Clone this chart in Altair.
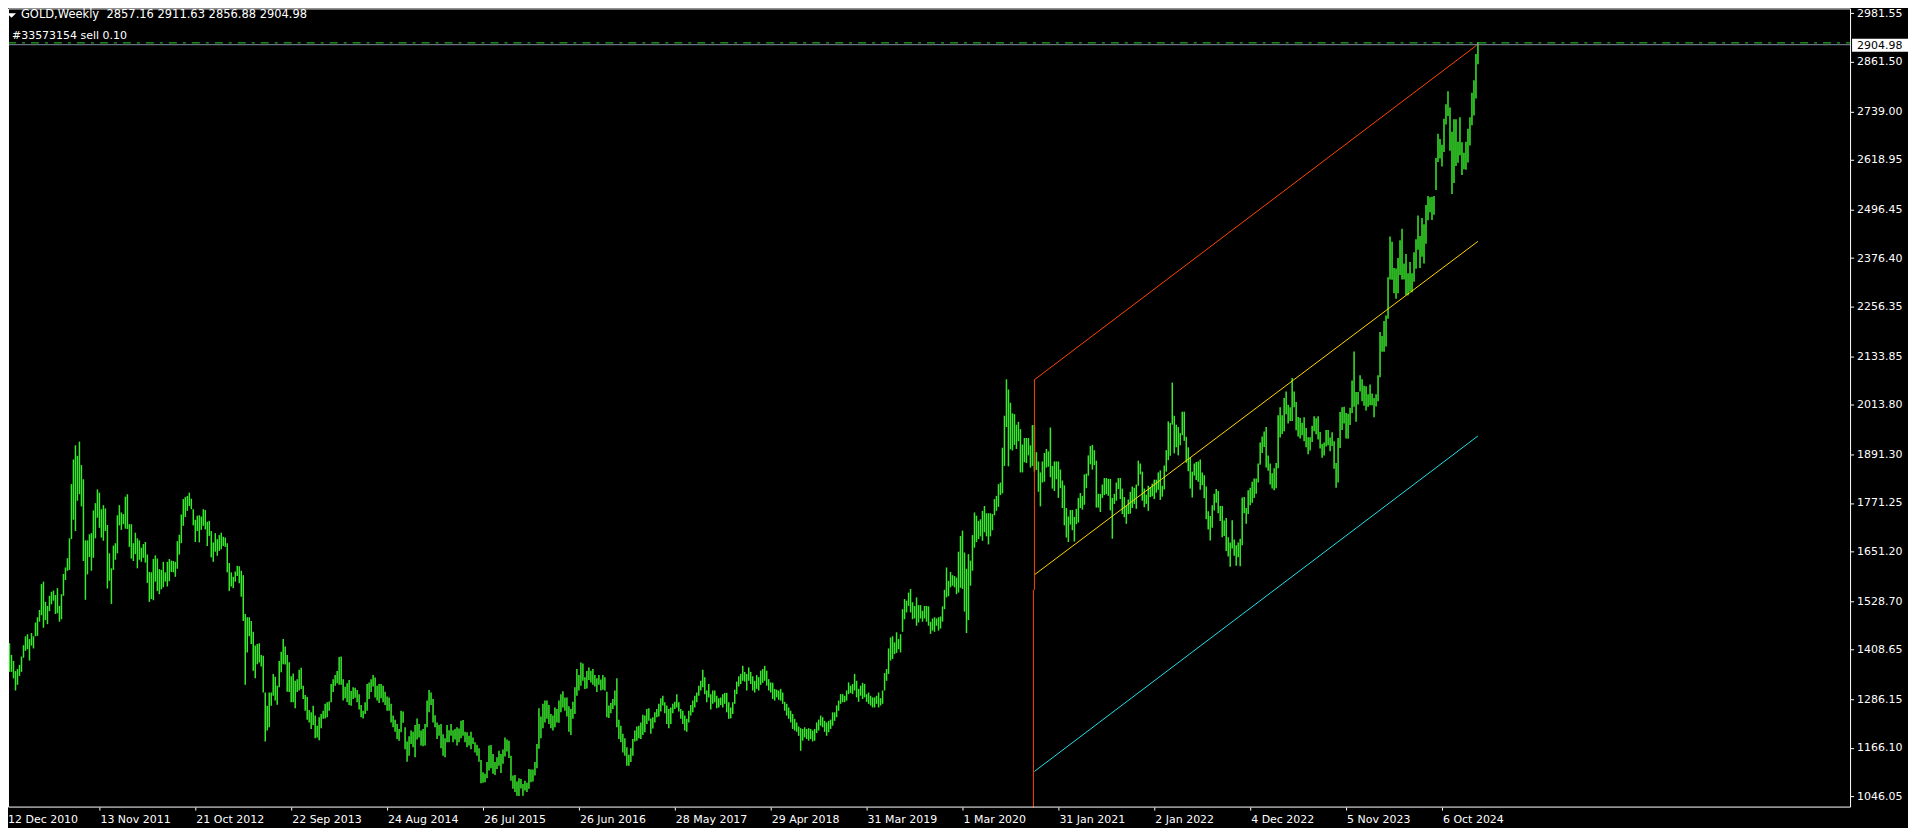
import json
import altair as alt
import pandas as pd

# ---------------- texts / labels ----------------
symbol_text = "GOLD,Weekly"
last_ohlc = [2857.16, 2911.63, 2856.88, 2904.98]
order_text = "#33573154 sell 0.10"
order_price = 2909.5
bid_price = 2904.98

date_labels = ["12 Dec 2010", "13 Nov 2011", "21 Oct 2012", "22 Sep 2013", "24 Aug 2014",
               "26 Jul 2015", "26 Jun 2016", "28 May 2017", "29 Apr 2018", "31 Mar 2019",
               "1 Mar 2020", "31 Jan 2021", "2 Jan 2022", "4 Dec 2022", "5 Nov 2023", "6 Oct 2024"]
label_bars = [0, 48, 96, 144, 192, 240, 288, 336, 384, 432, 480, 528, 576, 624, 672, 720]
price_ticks = [2981.55, 2861.50, 2739.00, 2618.95, 2496.45, 2376.40, 2256.35, 2133.85, 2013.80,
               1891.30, 1771.25, 1651.20, 1528.70, 1408.65, 1286.15, 1166.10, 1046.05]

# ---------------- weekly highs / lows (bars from 12 Dec 2010) ----------------
high_s00 = [1411, 1395, 1424, 1426, 1397, 1382, 1357, 1362, 1372, 1393, 1421, 1443,
            1448, 1436, 1451, 1443, 1477, 1490, 1508, 1572, 1578, 1528, 1518, 1543,
            1553, 1556, 1545, 1562, 1518, 1547, 1597, 1613, 1636, 1685, 1819, 1880,
            1915, 1889, 1924, 1866, 1831, 1680, 1680, 1695, 1698, 1754, 1772, 1806]
low_s00 = [1362, 1372, 1372, 1355, 1355, 1339, 1309, 1323, 1345, 1355, 1390, 1407,
           1411, 1383, 1420, 1413, 1443, 1444, 1479, 1495, 1464, 1483, 1473, 1505,
           1522, 1531, 1498, 1500, 1479, 1485, 1543, 1582, 1605, 1607, 1683, 1731,
           1703, 1778, 1794, 1764, 1629, 1533, 1596, 1639, 1605, 1637, 1685, 1736]
high_s01 = [1798, 1757, 1767, 1759, 1718, 1648, 1611, 1667, 1673, 1742, 1767, 1749,
            1745, 1788, 1794, 1720, 1720, 1673, 1699, 1685, 1680, 1662, 1671, 1676,
            1645, 1602, 1601, 1634, 1643, 1635, 1609, 1607, 1627, 1601, 1627, 1634,
            1630, 1629, 1627, 1678, 1694, 1744, 1782, 1787, 1790, 1798, 1783, 1757]
low_s01 = [1711, 1687, 1679, 1703, 1561, 1580, 1523, 1607, 1632, 1648, 1717, 1706,
           1720, 1709, 1708, 1664, 1635, 1629, 1646, 1611, 1632, 1627, 1637, 1625,
           1575, 1528, 1535, 1532, 1578, 1555, 1547, 1559, 1564, 1578, 1566, 1579,
           1602, 1601, 1590, 1610, 1645, 1673, 1716, 1738, 1753, 1765, 1757, 1717]
high_s02 = [1731, 1741, 1742, 1739, 1757, 1755, 1726, 1728, 1703, 1675, 1698, 1683,
            1693, 1699, 1689, 1687, 1673, 1624, 1601, 1590, 1603, 1617, 1616, 1605,
            1594, 1498, 1490, 1490, 1481, 1454, 1420, 1424, 1426, 1397, 1395, 1304,
            1271, 1304, 1304, 1350, 1343, 1321, 1382, 1405, 1436, 1418, 1397, 1379]
low_s02 = [1676, 1703, 1675, 1706, 1716, 1707, 1666, 1691, 1638, 1627, 1652, 1642,
           1654, 1658, 1666, 1664, 1601, 1555, 1566, 1562, 1578, 1592, 1574, 1541,
           1481, 1323, 1403, 1443, 1424, 1358, 1339, 1374, 1378, 1368, 1304, 1183,
           1210, 1218, 1271, 1296, 1284, 1274, 1317, 1354, 1374, 1373, 1306, 1305]
high_s03 = [1344, 1351, 1333, 1337, 1360, 1365, 1321, 1298, 1293, 1261, 1255, 1271,
            1247, 1222, 1243, 1251, 1259, 1276, 1280, 1282, 1325, 1337, 1347, 1357,
            1392, 1393, 1337, 1318, 1327, 1335, 1308, 1317, 1316, 1310, 1300, 1273,
            1259, 1280, 1325, 1329, 1337, 1347, 1341, 1321, 1325, 1325, 1321, 1306]
low_s03 = [1280, 1280, 1265, 1305, 1309, 1313, 1288, 1259, 1237, 1230, 1214, 1224,
           1191, 1193, 1186, 1216, 1239, 1240, 1243, 1259, 1280, 1305, 1321, 1327,
           1323, 1323, 1284, 1290, 1280, 1273, 1271, 1288, 1291, 1280, 1262, 1243,
           1240, 1251, 1259, 1288, 1305, 1319, 1292, 1284, 1278, 1290, 1280, 1273]
high_s04 = [1294, 1292, 1276, 1247, 1237, 1226, 1214, 1259, 1257, 1218, 1183, 1196,
            1210, 1207, 1224, 1240, 1226, 1210, 1214, 1226, 1284, 1310, 1304, 1288,
            1248, 1230, 1224, 1226, 1201, 1191, 1224, 1211, 1226, 1211, 1214, 1218,
            1215, 1234, 1236, 1207, 1206, 1197, 1207, 1193, 1181, 1175, 1166, 1137]
low_s04 = [1259, 1259, 1230, 1218, 1207, 1189, 1185, 1206, 1229, 1164, 1133, 1148,
           1177, 1169, 1144, 1188, 1193, 1173, 1171, 1173, 1218, 1255, 1273, 1230,
           1218, 1189, 1197, 1166, 1148, 1144, 1181, 1181, 1197, 1181, 1188, 1173,
           1181, 1191, 1197, 1181, 1169, 1173, 1164, 1177, 1156, 1148, 1133, 1080]
high_s05 = [1107, 1103, 1132, 1173, 1174, 1152, 1132, 1144, 1160, 1152, 1163, 1193,
            1188, 1185, 1148, 1099, 1100, 1084, 1092, 1090, 1078, 1086, 1081, 1115,
            1114, 1114, 1132, 1177, 1265, 1245, 1276, 1284, 1284, 1273, 1251, 1247,
            1267, 1263, 1284, 1300, 1307, 1292, 1292, 1270, 1263, 1281, 1317, 1362]
low_s05 = [1081, 1082, 1092, 1111, 1117, 1103, 1100, 1115, 1123, 1105, 1128, 1146,
           1158, 1142, 1086, 1066, 1058, 1049, 1048, 1067, 1049, 1062, 1058, 1066,
           1082, 1084, 1099, 1117, 1165, 1191, 1216, 1230, 1239, 1226, 1216, 1210,
           1218, 1230, 1229, 1255, 1267, 1259, 1245, 1207, 1199, 1239, 1251, 1296]
high_s06 = [1347, 1378, 1376, 1342, 1357, 1366, 1358, 1362, 1347, 1339, 1347, 1336,
            1347, 1342, 1306, 1272, 1278, 1288, 1309, 1339, 1237, 1222, 1202, 1191,
            1169, 1150, 1166, 1189, 1210, 1220, 1222, 1230, 1249, 1247, 1263, 1265,
            1240, 1243, 1255, 1263, 1276, 1290, 1296, 1280, 1272, 1263, 1267, 1276]
low_s06 = [1309, 1321, 1333, 1313, 1314, 1335, 1329, 1323, 1319, 1305, 1323, 1309,
           1311, 1309, 1243, 1241, 1253, 1263, 1272, 1218, 1189, 1181, 1156, 1148,
           1123, 1123, 1132, 1148, 1183, 1185, 1191, 1189, 1199, 1206, 1226, 1234,
           1202, 1215, 1230, 1243, 1245, 1257, 1272, 1253, 1226, 1216, 1226, 1253]
high_s07 = [1281, 1300, 1280, 1263, 1259, 1247, 1239, 1259, 1273, 1284, 1296, 1304,
            1321, 1333, 1360, 1342, 1309, 1325, 1300, 1309, 1309, 1296, 1290, 1292,
            1300, 1303, 1303, 1280, 1267, 1280, 1311, 1331, 1344, 1350, 1370, 1355,
            1350, 1366, 1355, 1344, 1333, 1347, 1342, 1358, 1362, 1370, 1358, 1337]
low_s07 = [1263, 1267, 1257, 1239, 1226, 1210, 1207, 1230, 1247, 1255, 1267, 1280,
           1296, 1309, 1317, 1300, 1280, 1292, 1262, 1276, 1280, 1265, 1267, 1273,
           1267, 1276, 1255, 1239, 1240, 1251, 1276, 1300, 1319, 1325, 1333, 1331,
           1309, 1333, 1325, 1309, 1304, 1313, 1309, 1323, 1328, 1333, 1321, 1309]
high_s08 = [1329, 1328, 1313, 1311, 1309, 1313, 1304, 1281, 1276, 1267, 1259, 1251,
            1239, 1230, 1220, 1216, 1214, 1218, 1214, 1216, 1214, 1210, 1214, 1230,
            1237, 1247, 1243, 1234, 1230, 1234, 1237, 1255, 1255, 1272, 1284, 1300,
            1300, 1296, 1309, 1329, 1321, 1325, 1350, 1333, 1313, 1321, 1328, 1325]
low_s08 = [1304, 1288, 1284, 1292, 1286, 1284, 1276, 1259, 1247, 1239, 1230, 1214,
           1210, 1207, 1197, 1160, 1185, 1193, 1189, 1185, 1189, 1183, 1185, 1204,
           1210, 1222, 1218, 1207, 1197, 1206, 1214, 1222, 1234, 1243, 1259, 1276,
           1280, 1280, 1284, 1300, 1303, 1300, 1309, 1292, 1281, 1296, 1288, 1292]
high_s09 = [1300, 1304, 1296, 1292, 1292, 1296, 1304, 1290, 1309, 1352, 1362, 1413,
            1440, 1443, 1428, 1453, 1436, 1448, 1510, 1535, 1531, 1551, 1560, 1527,
            1518, 1539, 1520, 1520, 1506, 1518, 1518, 1517, 1479, 1487, 1490, 1487,
            1490, 1492, 1517, 1558, 1613, 1580, 1602, 1594, 1592, 1588, 1652, 1691]
low_s09 = [1281, 1276, 1272, 1267, 1267, 1276, 1267, 1272, 1276, 1309, 1333, 1350,
           1383, 1387, 1399, 1402, 1411, 1403, 1454, 1485, 1502, 1518, 1502, 1485,
           1487, 1469, 1477, 1487, 1479, 1487, 1479, 1469, 1449, 1457, 1454, 1469,
           1457, 1462, 1479, 1510, 1539, 1542, 1564, 1568, 1564, 1547, 1551, 1563]
high_s10 = [1704, 1650, 1610, 1646, 1630, 1693, 1749, 1741, 1728, 1732, 1753, 1765,
            1747, 1747, 1747, 1745, 1782, 1790, 1819, 1823, 1909, 1988, 2078, 2053,
            2020, 1994, 1992, 1966, 1973, 1955, 1917, 1933, 1933, 1933, 1915, 1965,
            1965, 1898, 1875, 1848, 1875, 1896, 1906, 1900, 1959, 1864, 1875, 1875]
low_s10 = [1560, 1504, 1451, 1483, 1568, 1605, 1662, 1676, 1683, 1690, 1679, 1700,
           1690, 1670, 1690, 1705, 1742, 1753, 1763, 1792, 1796, 1864, 1960, 1863,
           1905, 1902, 1916, 1906, 1925, 1848, 1848, 1873, 1871, 1890, 1860, 1864,
           1850, 1854, 1800, 1764, 1823, 1825, 1860, 1862, 1836, 1808, 1802, 1831]
high_s11 = [1875, 1855, 1828, 1816, 1760, 1739, 1755, 1755, 1738, 1758, 1785, 1797,
            1790, 1843, 1845, 1890, 1913, 1916, 1903, 1877, 1795, 1795, 1818, 1834,
            1834, 1832, 1832, 1785, 1795, 1823, 1834, 1834, 1808, 1787, 1765, 1781,
            1800, 1813, 1810, 1818, 1877, 1870, 1850, 1808, 1793, 1815, 1811, 1820]
low_s11 = [1785, 1809, 1760, 1717, 1687, 1676, 1719, 1705, 1677, 1720, 1724, 1760,
           1756, 1768, 1809, 1840, 1868, 1855, 1866, 1761, 1761, 1750, 1785, 1792,
           1794, 1790, 1754, 1684, 1770, 1778, 1807, 1782, 1745, 1737, 1721, 1745,
           1746, 1760, 1770, 1758, 1815, 1843, 1778, 1762, 1770, 1753, 1787, 1789]
high_s12 = [1830, 1830, 1848, 1853, 1815, 1865, 1903, 1974, 1970, 2070, 1988, 1966,
            1960, 1945, 1998, 1998, 1936, 1910, 1884, 1850, 1870, 1874, 1875, 1880,
            1848, 1841, 1813, 1752, 1740, 1767, 1795, 1807, 1802, 1765, 1765, 1729,
            1735, 1688, 1675, 1730, 1682, 1668, 1675, 1684, 1786, 1787, 1760, 1804]
low_s12 = [1782, 1798, 1805, 1780, 1788, 1806, 1850, 1878, 1889, 1966, 1895, 1910,
           1890, 1915, 1940, 1926, 1872, 1851, 1808, 1786, 1840, 1829, 1825, 1805,
           1816, 1784, 1732, 1707, 1680, 1711, 1754, 1773, 1747, 1728, 1688, 1691,
           1654, 1640, 1615, 1660, 1642, 1617, 1638, 1616, 1668, 1747, 1721, 1745]
high_s13 = [1810, 1825, 1833, 1833, 1870, 1922, 1937, 1949, 1960, 1890, 1870, 1846,
            1858, 1871, 1989, 2009, 1989, 2032, 2048, 2015, 2009, 2081, 2048, 2022,
            1985, 1983, 1971, 1984, 1958, 1935, 1935, 1963, 1987, 1982, 1987, 1948,
            1918, 1922, 1953, 1953, 1934, 1947, 1925, 1871, 1933, 1997, 2009, 2010]
low_s13 = [1767, 1773, 1785, 1795, 1823, 1867, 1896, 1911, 1860, 1852, 1818, 1808,
           1804, 1809, 1858, 1934, 1943, 1950, 1992, 1969, 1975, 1975, 2009, 1952,
           1937, 1932, 1940, 1925, 1910, 1893, 1902, 1923, 1950, 1942, 1929, 1907,
           1884, 1890, 1912, 1915, 1900, 1913, 1857, 1810, 1823, 1908, 1953, 1969]
high_s14 = [1995, 1993, 2008, 2075, 2147, 2047, 2047, 2088, 2078, 2062, 2061, 2041,
            2065, 2043, 2032, 2041, 2088, 2195, 2185, 2222, 2236, 2330, 2431, 2418,
            2353, 2352, 2378, 2422, 2450, 2364, 2388, 2340, 2368, 2340, 2392, 2424,
            2483, 2432, 2477, 2461, 2509, 2531, 2528, 2529, 2531, 2625, 2685, 2672]
low_s14 = [1932, 1931, 1965, 1995, 2010, 1973, 2016, 2048, 2024, 2013, 2001, 2010,
           2014, 2014, 1984, 2011, 2024, 2083, 2146, 2146, 2159, 2228, 2325, 2324,
           2291, 2277, 2291, 2336, 2325, 2325, 2286, 2286, 2295, 2293, 2319, 2351,
           2398, 2353, 2381, 2364, 2413, 2471, 2491, 2472, 2485, 2546, 2615, 2624]
high_s15 = [2658, 2722, 2758, 2790, 2750, 2690, 2721, 2721, 2665, 2726, 2664, 2638,
            2665, 2697, 2726, 2786, 2817, 2882, 2911.63]
low_s15 = [2604, 2640, 2708, 2729, 2643, 2536, 2563, 2605, 2613, 2632, 2583, 2597,
           2596, 2614, 2656, 2706, 2730, 2772, 2856.88]

# ---------------- drawn objects (bar index, price) ----------------
channel_bars = [516, 738]
channel_upper = [2077, 2906]
channel_middle = [1595, 2419]
channel_lower = [1109, 1938]
edge_bar = 516
edge_prices = [2077, 1558]
vline_bar = 515.5
vline_prices = [1558, 900]

# ---------------- build ----------------
highs = (high_s00 + high_s01 + high_s02 + high_s03 + high_s04 + high_s05 + high_s06 + high_s07 +
         high_s08 + high_s09 + high_s10 + high_s11 + high_s12 + high_s13 + high_s14 + high_s15)
lows = (low_s00 + low_s01 + low_s02 + low_s03 + low_s04 + low_s05 + low_s06 + low_s07 +
        low_s08 + low_s09 + low_s10 + low_s11 + low_s12 + low_s13 + low_s14 + low_s15)
n = min(len(highs), len(lows))
bars = pd.DataFrame({"bar": list(range(n)), "high": highs[:n], "low": lows[:n]})

W, H = 1845, 800
FONT = "DejaVu Sans"
BAR_COLOR = "#38e82c"

xs = alt.Scale(domain=[2.25, 924.75], nice=False, zero=False)
ys = alt.Scale(domain=[1019.62, 2994.63], nice=False, zero=False)

label_expr = json.dumps(date_labels) + "[indexof(" + json.dumps(label_bars) + ", datum.value)]"
x_axis = alt.Axis(values=label_bars[1:], labelExpr=label_expr, orient="bottom", title=None,
                  grid=False, domain=False, ticks=True, tickSize=3, tickColor="#ffffff",
                  tickWidth=1, labelColor="#ffffff", labelFont=FONT, labelFontSize=11,
                  labelAlign="left", labelBaseline="top", labelPadding=3, labelOffset=1,
                  labelOverlap=False, labelFlush=False, translate=0)
y_axis = alt.Axis(values=price_ticks, format=".2f", orient="right", title=None, grid=False,
                  domain=False, ticks=True, tickSize=3, tickColor="#ffffff", tickWidth=1,
                  labelColor="#ffffff", labelFont=FONT, labelFontSize=11, labelAlign="left",
                  labelBaseline="middle", labelPadding=3, labelOverlap=False,
                  labelFlush=False, translate=0)

bar_layer = alt.Chart(bars).mark_rule(color=BAR_COLOR, strokeWidth=1.5, clip=True).encode(
    x=alt.X("bar:Q", scale=xs, axis=x_axis),
    y=alt.Y("low:Q", scale=ys, axis=y_axis),
    y2="high:Q",
)

seg = pd.DataFrame({
    "name": ["upper", "middle", "lower", "edge", "vline"],
    "x1": [channel_bars[0], channel_bars[0], channel_bars[0], edge_bar, vline_bar],
    "x2": [channel_bars[1], channel_bars[1], channel_bars[1], edge_bar, vline_bar],
    "y1": [channel_upper[0], channel_middle[0], channel_lower[0], edge_prices[0], vline_prices[0]],
    "y2": [channel_upper[1], channel_middle[1], channel_lower[1], edge_prices[1], vline_prices[1]],
})
seg_layer = alt.Chart(seg).mark_rule(strokeWidth=1, clip=True).encode(
    x=alt.X("x1:Q", scale=xs, axis=x_axis),
    x2="x2:Q",
    y=alt.Y("y1:Q", scale=ys, axis=y_axis),
    y2="y2:Q",
    color=alt.Color("name:N", legend=None,
                    scale=alt.Scale(domain=["upper", "middle", "lower", "edge", "vline"],
                                    range=["#ff4500", "#ffd700", "#22e0e8", "#ff4500", "#ff4500"])),
)

bid_df = pd.DataFrame({"price": [bid_price], "label": [f"{bid_price:.2f}"]})
order_df = pd.DataFrame({"price": [order_price]})

bid_layer = alt.Chart(bid_df).mark_rule(color="#8090a0", strokeWidth=1).encode(
    x=alt.value(0), x2=alt.value(W), y=alt.Y("price:Q", scale=ys, axis=y_axis))
order_layer = alt.Chart(order_df).mark_rule(color="#2ed22e", strokeWidth=1,
                                            strokeDash=[8, 6, 3, 6]).encode(
    x=alt.value(0), x2=alt.value(W), y=alt.Y("price:Q", scale=ys, axis=y_axis))

box_layer = alt.Chart(bid_df).mark_rect(color="#ffffff", yOffset=-6, y2Offset=7).encode(
    x=alt.value(W + 1), x2=alt.value(W + 57),
    y=alt.Y("price:Q", scale=ys, axis=y_axis), y2="price:Q")
box_text = alt.Chart(bid_df).mark_text(align="left", baseline="middle", color="#000000",
                                       font=FONT, fontSize=11, dy=1).encode(
    x=alt.value(W + 6), y=alt.Y("price:Q", scale=ys, axis=y_axis), text="label:N")

one = pd.DataFrame({"a": [0]})
header_str = symbol_text + "\u00a0 " + " ".join(f"{v:.2f}" for v in last_ohlc)
tri = alt.Chart(one).mark_point(shape="M-1,-0.5L1,-0.5L0,0.5Z", size=81, filled=True,
                                color="#ffffff", opacity=1, strokeWidth=0).encode(
    x=alt.value(3.5), y=alt.value(7))
header = alt.Chart(one).mark_text(align="left", baseline="middle", color="#ffffff",
                                  font=FONT, fontSize=11.5, text=header_str).encode(
    x=alt.value(13), y=alt.value(7))
order_lbl = alt.Chart(one).mark_text(align="left", baseline="middle", color="#ffffff",
                                     font=FONT, fontSize=11, text=order_text).encode(
    x=alt.value(4), y=alt.value(27.5))
first_lbl = alt.Chart(one).mark_text(align="left", baseline="top", color="#ffffff",
                                     font=FONT, fontSize=11, text=date_labels[0]).encode(
    x=alt.value(0), y=alt.value(H + 6))
border = alt.Chart(one).mark_rect(fillOpacity=0, stroke="#ffffff", strokeWidth=1).encode(
    x=alt.value(0.5), x2=alt.value(W - 0.5), y=alt.value(0.5), y2=alt.value(H - 0.5))

chart = alt.layer(
    bar_layer, seg_layer, bid_layer, order_layer, box_layer, box_text,
    tri, header, order_lbl, first_lbl, border,
).properties(
    width=W, height=H, background="#000000",
    padding={"left": 0, "top": 0, "right": 57, "bottom": 20},
    autosize=alt.AutoSizeParams(type="none"),
).configure_view(stroke=None)

chart.save("out.html", embed_options={"renderer": "svg", "actions": False})
